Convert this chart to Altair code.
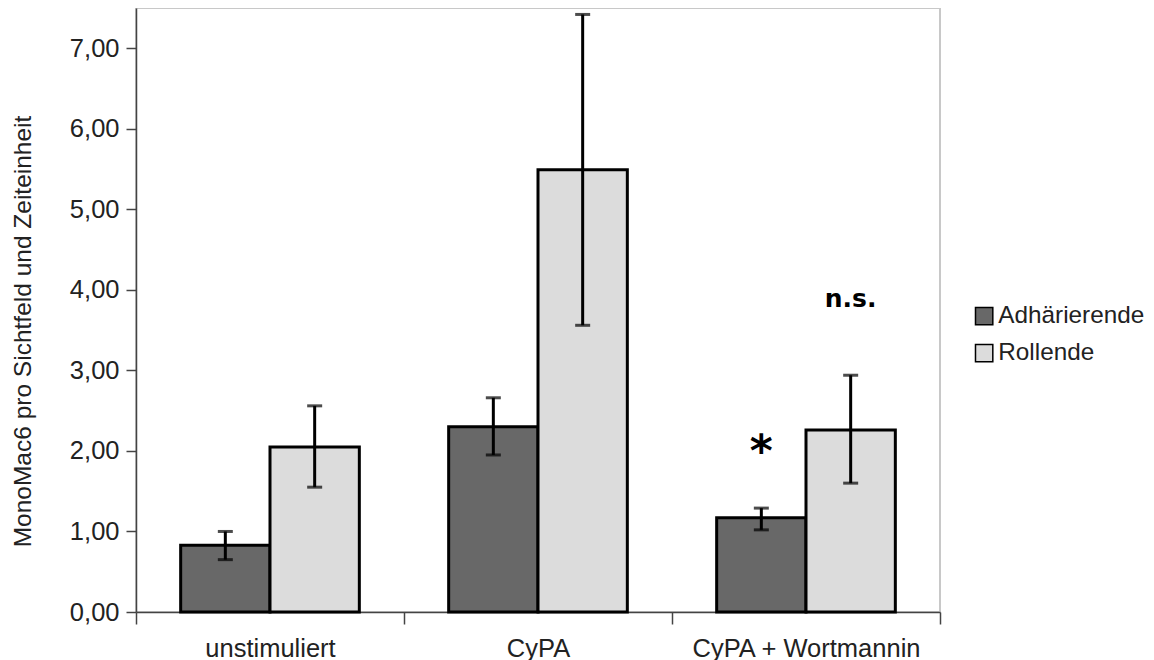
import altair as alt
import pandas as pd

categories = ["unstimuliert", "CyPA", "CyPA + Wortmannin"]
series = ["Adhärierende", "Rollende"]
adh_mean = [0.83, 2.30, 1.17]
adh_lo = [0.65, 1.95, 1.02]
adh_hi = [1.00, 2.66, 1.29]
roll_mean = [2.05, 5.49, 2.26]
roll_lo = [1.55, 3.56, 1.60]
roll_hi = [2.56, 7.42, 2.94]

annot_text = ["*", "n.s."]
annot_cat = ["CyPA + Wortmannin", "CyPA + Wortmannin"]
annot_series = ["Adhärierende", "Rollende"]
annot_y = [1.81, 3.79]
annot_size = [44, 25]

rows = []
for i, c in enumerate(categories):
    rows.append({"cat": c, "ser": series[0], "mean": adh_mean[i], "lo": adh_lo[i], "hi": adh_hi[i]})
    rows.append({"cat": c, "ser": series[1], "mean": roll_mean[i], "lo": roll_lo[i], "hi": roll_hi[i]})
df = pd.DataFrame(rows)
ann = pd.DataFrame({"text": annot_text, "cat": annot_cat, "ser": annot_series,
                    "y": annot_y, "size": annot_size})

W, H = 804, 604
FONT = "Liberation Sans"

xenc = alt.X("cat:N", sort=categories,
             scale=alt.Scale(paddingInner=0, paddingOuter=0),
             axis=alt.Axis(title=None, tickBand="extent", tickSize=12, tickColor="#444444",
                           tickWidth=1.5, domainColor="#444444", domainWidth=1.5,
                           labelFont=FONT, labelFontSize=25.5, labelColor="#222222",
                           labelPadding=12, labelAngle=0, labelLimit=400))
xoff = alt.XOffset("ser:N", sort=series,
                   scale=alt.Scale(paddingInner=0, paddingOuter=0.5))
yscale = alt.Scale(domain=[0, 7.5], nice=False, zero=True)

base = alt.Chart(df)

bars = base.mark_bar(stroke="black", strokeWidth=3).encode(
    x=xenc,
    xOffset=xoff,
    y=alt.Y("mean:Q", scale=yscale,
            axis=alt.Axis(title="MonoMac6 pro Sichtfeld und Zeiteinheit",
                          values=[0, 1, 2, 3, 4, 5, 6, 7], grid=False,
                          labelExpr="replace(format(datum.value, '.2f'), '.', ',')",
                          tickSize=10, tickColor="#444444", tickWidth=1.5,
                          domainColor="#444444", domainWidth=1.5,
                          labelFont=FONT, labelFontSize=25.5, labelColor="#222222",
                          labelPadding=7, titleFont=FONT, titleFontSize=24.5,
                          titleFontWeight="normal", titleColor="#222222",
                          titlePadding=34, titleY=323)),
    fill=alt.Fill("ser:N", sort=series,
                  scale=alt.Scale(domain=series, range=["#686868", "#dcdcdc"]),
                  legend=alt.Legend(title=None, orient="none", legendX=836, legendY=296,
                                    symbolType="square", symbolSize=300,
                                    symbolStrokeColor="black", symbolStrokeWidth=1.5,
                                    labelFont=FONT, labelFontSize=24.3, labelColor="#222222",
                                    labelOffset=2, rowPadding=12, padding=0, labelLimit=400)),
)

err = base.mark_rule(color="black", strokeWidth=3).encode(
    x=alt.X("cat:N", sort=categories), xOffset=alt.XOffset("ser:N", sort=series),
    y=alt.Y("lo:Q", scale=yscale), y2="hi:Q")
cap_lo = base.mark_tick(color="black", thickness=3, size=15).encode(
    x=alt.X("cat:N", sort=categories), xOffset=alt.XOffset("ser:N", sort=series),
    y=alt.Y("lo:Q", scale=yscale))
cap_hi = base.mark_tick(color="black", thickness=3, size=15).encode(
    x=alt.X("cat:N", sort=categories), xOffset=alt.XOffset("ser:N", sort=series),
    y=alt.Y("hi:Q", scale=yscale))

texts = alt.Chart(ann).mark_text(font="DejaVu Sans", fontWeight="bold", color="black",
                                 baseline="alphabetic", align="center").encode(
    x=alt.X("cat:N", sort=categories), xOffset=alt.XOffset("ser:N", sort=series),
    y=alt.Y("y:Q", scale=yscale),
    text="text:N",
    size=alt.Size("size:Q", scale=None, legend=None))

chart = alt.layer(bars, err, cap_lo, cap_hi, texts).properties(
    width=W, height=H,
    autosize=alt.AutoSizeParams(type="none"),
    padding={"left": 128, "top": 0, "right": 206, "bottom": 48},
).configure_view(stroke="#c8c8c8", strokeWidth=2)

chart.save("out.html", embed_options={"renderer": "svg", "actions": False})
